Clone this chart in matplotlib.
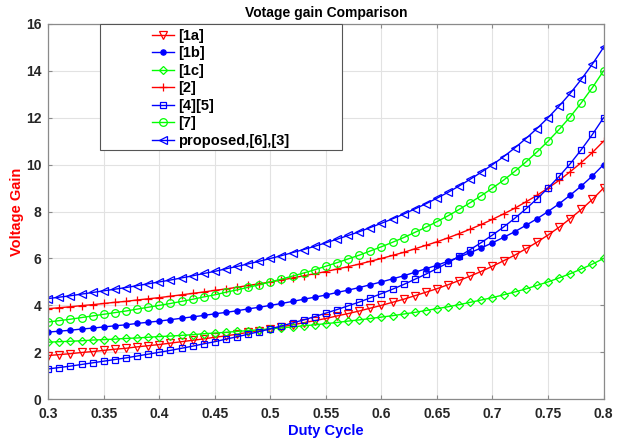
import matplotlib
matplotlib.use("Agg")
import matplotlib.pyplot as plt
from matplotlib.patches import Rectangle

duty = [0.30, 0.31, 0.32, 0.33, 0.34, 0.35, 0.36, 0.37, 0.38, 0.39,
        0.40, 0.41, 0.42, 0.43, 0.44, 0.45, 0.46, 0.47, 0.48, 0.49,
        0.50, 0.51, 0.52, 0.53, 0.54, 0.55, 0.56, 0.57, 0.58, 0.59,
        0.60, 0.61, 0.62, 0.63, 0.64, 0.65, 0.66, 0.67, 0.68, 0.69,
        0.70, 0.71, 0.72, 0.73, 0.74, 0.75, 0.76, 0.77, 0.78, 0.79, 0.80]

g_1a = [1.86, 1.90, 1.94, 1.99, 2.03, 2.08, 2.13, 2.17, 2.23, 2.28,
        2.33, 2.39, 2.45, 2.51, 2.57, 2.64, 2.70, 2.77, 2.85, 2.92,
        3.00, 3.08, 3.17, 3.26, 3.35, 3.44, 3.55, 3.65, 3.76, 3.88,
        4.00, 4.13, 4.26, 4.41, 4.56, 4.71, 4.88, 5.06, 5.25, 5.45,
        5.67, 5.90, 6.14, 6.41, 6.69, 7.00, 7.33, 7.70, 8.09, 8.52, 9.00]

g_1b = [2.86, 2.90, 2.94, 2.99, 3.03, 3.08, 3.13, 3.17, 3.23, 3.28,
        3.33, 3.39, 3.45, 3.51, 3.57, 3.64, 3.70, 3.77, 3.85, 3.92,
        4.00, 4.08, 4.17, 4.26, 4.35, 4.44, 4.55, 4.65, 4.76, 4.88,
        5.00, 5.13, 5.26, 5.41, 5.56, 5.71, 5.88, 6.06, 6.25, 6.45,
        6.67, 6.90, 7.14, 7.41, 7.69, 8.00, 8.33, 8.70, 9.09, 9.52, 10.00]

g_1c = [2.43, 2.45, 2.47, 2.49, 2.52, 2.54, 2.56, 2.59, 2.61, 2.64,
        2.67, 2.69, 2.72, 2.75, 2.79, 2.82, 2.85, 2.89, 2.92, 2.96,
        3.00, 3.04, 3.08, 3.13, 3.17, 3.22, 3.27, 3.33, 3.38, 3.44,
        3.50, 3.56, 3.63, 3.70, 3.78, 3.86, 3.94, 4.03, 4.13, 4.23,
        4.33, 4.45, 4.57, 4.70, 4.85, 5.00, 5.17, 5.35, 5.55, 5.76, 6.00]

g_2 = [3.86, 3.90, 3.94, 3.99, 4.03, 4.08, 4.13, 4.17, 4.23, 4.28,
       4.33, 4.39, 4.45, 4.51, 4.57, 4.64, 4.70, 4.77, 4.85, 4.92,
       5.00, 5.08, 5.17, 5.26, 5.35, 5.44, 5.55, 5.65, 5.76, 5.88,
       6.00, 6.13, 6.26, 6.41, 6.56, 6.71, 6.88, 7.06, 7.25, 7.45,
       7.67, 7.90, 8.14, 8.41, 8.69, 9.00, 9.33, 9.70, 10.09, 10.52, 11.00]

g_45 = [1.29, 1.35, 1.41, 1.48, 1.55, 1.62, 1.69, 1.76, 1.84, 1.92,
        2.00, 2.08, 2.17, 2.26, 2.36, 2.45, 2.56, 2.66, 2.77, 2.88,
        3.00, 3.12, 3.25, 3.38, 3.52, 3.67, 3.82, 3.98, 4.14, 4.32,
        4.50, 4.69, 4.89, 5.11, 5.33, 5.57, 5.82, 6.09, 6.38, 6.68,
        7.00, 7.34, 7.71, 8.11, 8.54, 9.00, 9.50, 10.04, 10.64, 11.29, 12.00]

g_7 = [3.29, 3.35, 3.41, 3.48, 3.55, 3.62, 3.69, 3.76, 3.84, 3.92,
       4.00, 4.08, 4.17, 4.26, 4.36, 4.45, 4.56, 4.66, 4.77, 4.88,
       5.00, 5.12, 5.25, 5.38, 5.52, 5.67, 5.82, 5.98, 6.14, 6.32,
       6.50, 6.69, 6.89, 7.11, 7.33, 7.57, 7.82, 8.09, 8.38, 8.68,
       9.00, 9.34, 9.71, 10.11, 10.54, 11.00, 11.50, 12.04, 12.64, 13.29, 14.00]

g_prop = [4.29, 4.35, 4.41, 4.48, 4.55, 4.62, 4.69, 4.76, 4.84, 4.92,
          5.00, 5.08, 5.17, 5.26, 5.36, 5.45, 5.56, 5.66, 5.77, 5.88,
          6.00, 6.12, 6.25, 6.38, 6.52, 6.67, 6.82, 6.98, 7.14, 7.32,
          7.50, 7.69, 7.89, 8.11, 8.33, 8.57, 8.82, 9.09, 9.38, 9.68,
          10.00, 10.34, 10.71, 11.11, 11.54, 12.00, 12.50, 13.04, 13.64, 14.29, 15.00]

labels = ["[1a]", "[1b]", "[1c]", "[2]", "[4][5]", "[7]", "proposed,[6],[3]"]
xticks = [0.3, 0.35, 0.4, 0.45, 0.5, 0.55, 0.6, 0.65, 0.7, 0.75, 0.8]
xtick_labels = ["0.3", "0.35", "0.4", "0.45", "0.5", "0.55", "0.6", "0.65", "0.7", "0.75", "0.8"]
yticks = [0, 2, 4, 6, 8, 10, 12, 14, 16]

plt.rcParams['font.family'] = ['Liberation Sans', 'DejaVu Sans']

fig = plt.figure(figsize=(6.19, 4.44), dpi=100)
ax = fig.add_axes([0.078, 0.101, 0.897, 0.845])

series = [
    (g_1a, 'red', 'v', 'none', 5.5),
    (g_1b, 'blue', 'o', 'blue', 3.8),
    (g_1c, 'lime', 'D', 'none', 4.5),
    (g_2, 'red', '+', 'red', 6),
    (g_45, 'blue', 's', 'none', 4.5),
    (g_7, 'lime', 'o', 'none', 5.5),
    (g_prop, 'blue', '<', 'none', 6),
]
for (vals, col, mk, mfc, ms), lab in zip(series, labels):
    ax.plot(duty, vals, color=col, marker=mk, markerfacecolor=mfc,
            markeredgecolor=col, markersize=ms, linewidth=1.0,
            markeredgewidth=0.9, label=lab)

ax.set_xlim(0.3, 0.8)
ax.set_ylim(0, 16)
ax.set_xticks(xticks)
ax.set_xticklabels(xtick_labels)
ax.set_yticks(yticks)
ax.grid(True, color='#e2e2e2', linewidth=0.8)
ax.set_axisbelow(True)
for s in ax.spines.values():
    s.set_color('#8a8a8a')
    s.set_linewidth(0.9)
ax.tick_params(direction='in', length=3, color='#8a8a8a', labelsize=10,
               top=True, right=True, labeltop=False, labelright=False)
ax.tick_params(axis='x', pad=6)
ax.tick_params(axis='y', pad=5)
for t in ax.get_xticklabels() + ax.get_yticklabels():
    t.set_fontweight('bold')
    t.set_color('#262626')

ax.set_title("Votage gain Comparison", fontsize=10, fontweight='bold', pad=5)
ax.set_xlabel("Duty Cycle", fontsize=10.5, fontweight='bold', color='blue', labelpad=2)
ax.set_ylabel("Voltage Gain", fontsize=10.5, fontweight='bold', color='red', labelpad=1)

# legend frame
ax.add_patch(Rectangle((100 / 619, 1 - 150 / 444), 242 / 619, 126 / 444,
                       transform=fig.transFigure, facecolor='white',
                       edgecolor='#555555', linewidth=0.8, zorder=4,
                       clip_on=False))
leg = ax.legend(loc='upper left', bbox_to_anchor=(149 / 619, 1 - 26 / 444),
                bbox_transform=fig.transFigure, frameon=False, numpoints=1,
                handlelength=1.5, handletextpad=0.3, labelspacing=0.24,
                borderaxespad=0, borderpad=0.2,
                prop={'weight': 'bold', 'size': 10.5})
leg.set_zorder(5)

fig.savefig("out.png", dpi=100)
